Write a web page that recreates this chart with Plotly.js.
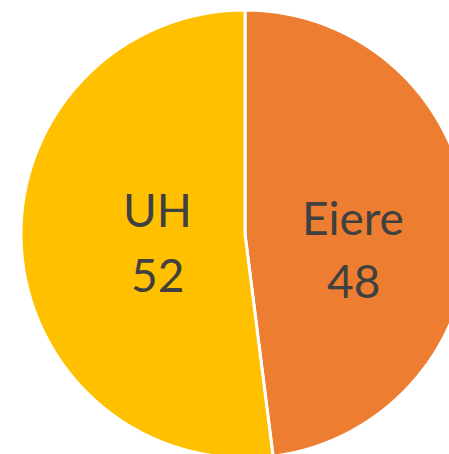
<!DOCTYPE html>
<html>
<head>
<meta charset="utf-8">
<script src="https://cdn.plot.ly/plotly-3.0.1.min.js"></script>
<style>
html,body{margin:0;padding:0;overflow:hidden;background:#fff;}
#chart{width:490px;height:470px;}
</style>
</head>
<body>
<div id="chart"></div>
<script>
const labels = ["Eiere", "UH"];
const values = [48, 52];
const colors = ["#ED7D31", "#FFC000"];

const trace = {
  type: "pie",
  labels: labels,
  values: values,
  sort: false,
  direction: "clockwise",
  rotation: 0,
  marker: { colors: colors, line: { color: "#FFFFFF", width: 3 } },
  textinfo: "none",
  hoverinfo: "none",
  showlegend: false
};

// label placement (paper coords) for category name and value lines
const labelPos = [
  { x: 0.7411, yName: 0.5368, yVal: 0.3951 },
  { x: 0.3036, yName: 0.5547, yVal: 0.4096 }
];
const font = { family: "Lato, 'Open Sans', sans-serif", size: 46, color: "#404040" };
const annotations = [];
labels.forEach((lab, i) => {
  annotations.push({ xref: "paper", yref: "paper", x: labelPos[i].x, y: labelPos[i].yName,
    text: lab, showarrow: false, xanchor: "center", yanchor: "middle", font: font });
  annotations.push({ xref: "paper", yref: "paper", x: labelPos[i].x, y: labelPos[i].yVal,
    text: String(values[i]), showarrow: false, xanchor: "center", yanchor: "middle", font: font });
});

const layout = {
  width: 490,
  height: 470,
  margin: { l: 21, r: 21, t: 10, b: 12 },
  paper_bgcolor: "#FFFFFF",
  plot_bgcolor: "#FFFFFF",
  showlegend: false,
  annotations: annotations
};

Plotly.newPlot("chart", [trace], layout, { displayModeBar: false, staticPlot: true });
</script>
</body>
</html>
